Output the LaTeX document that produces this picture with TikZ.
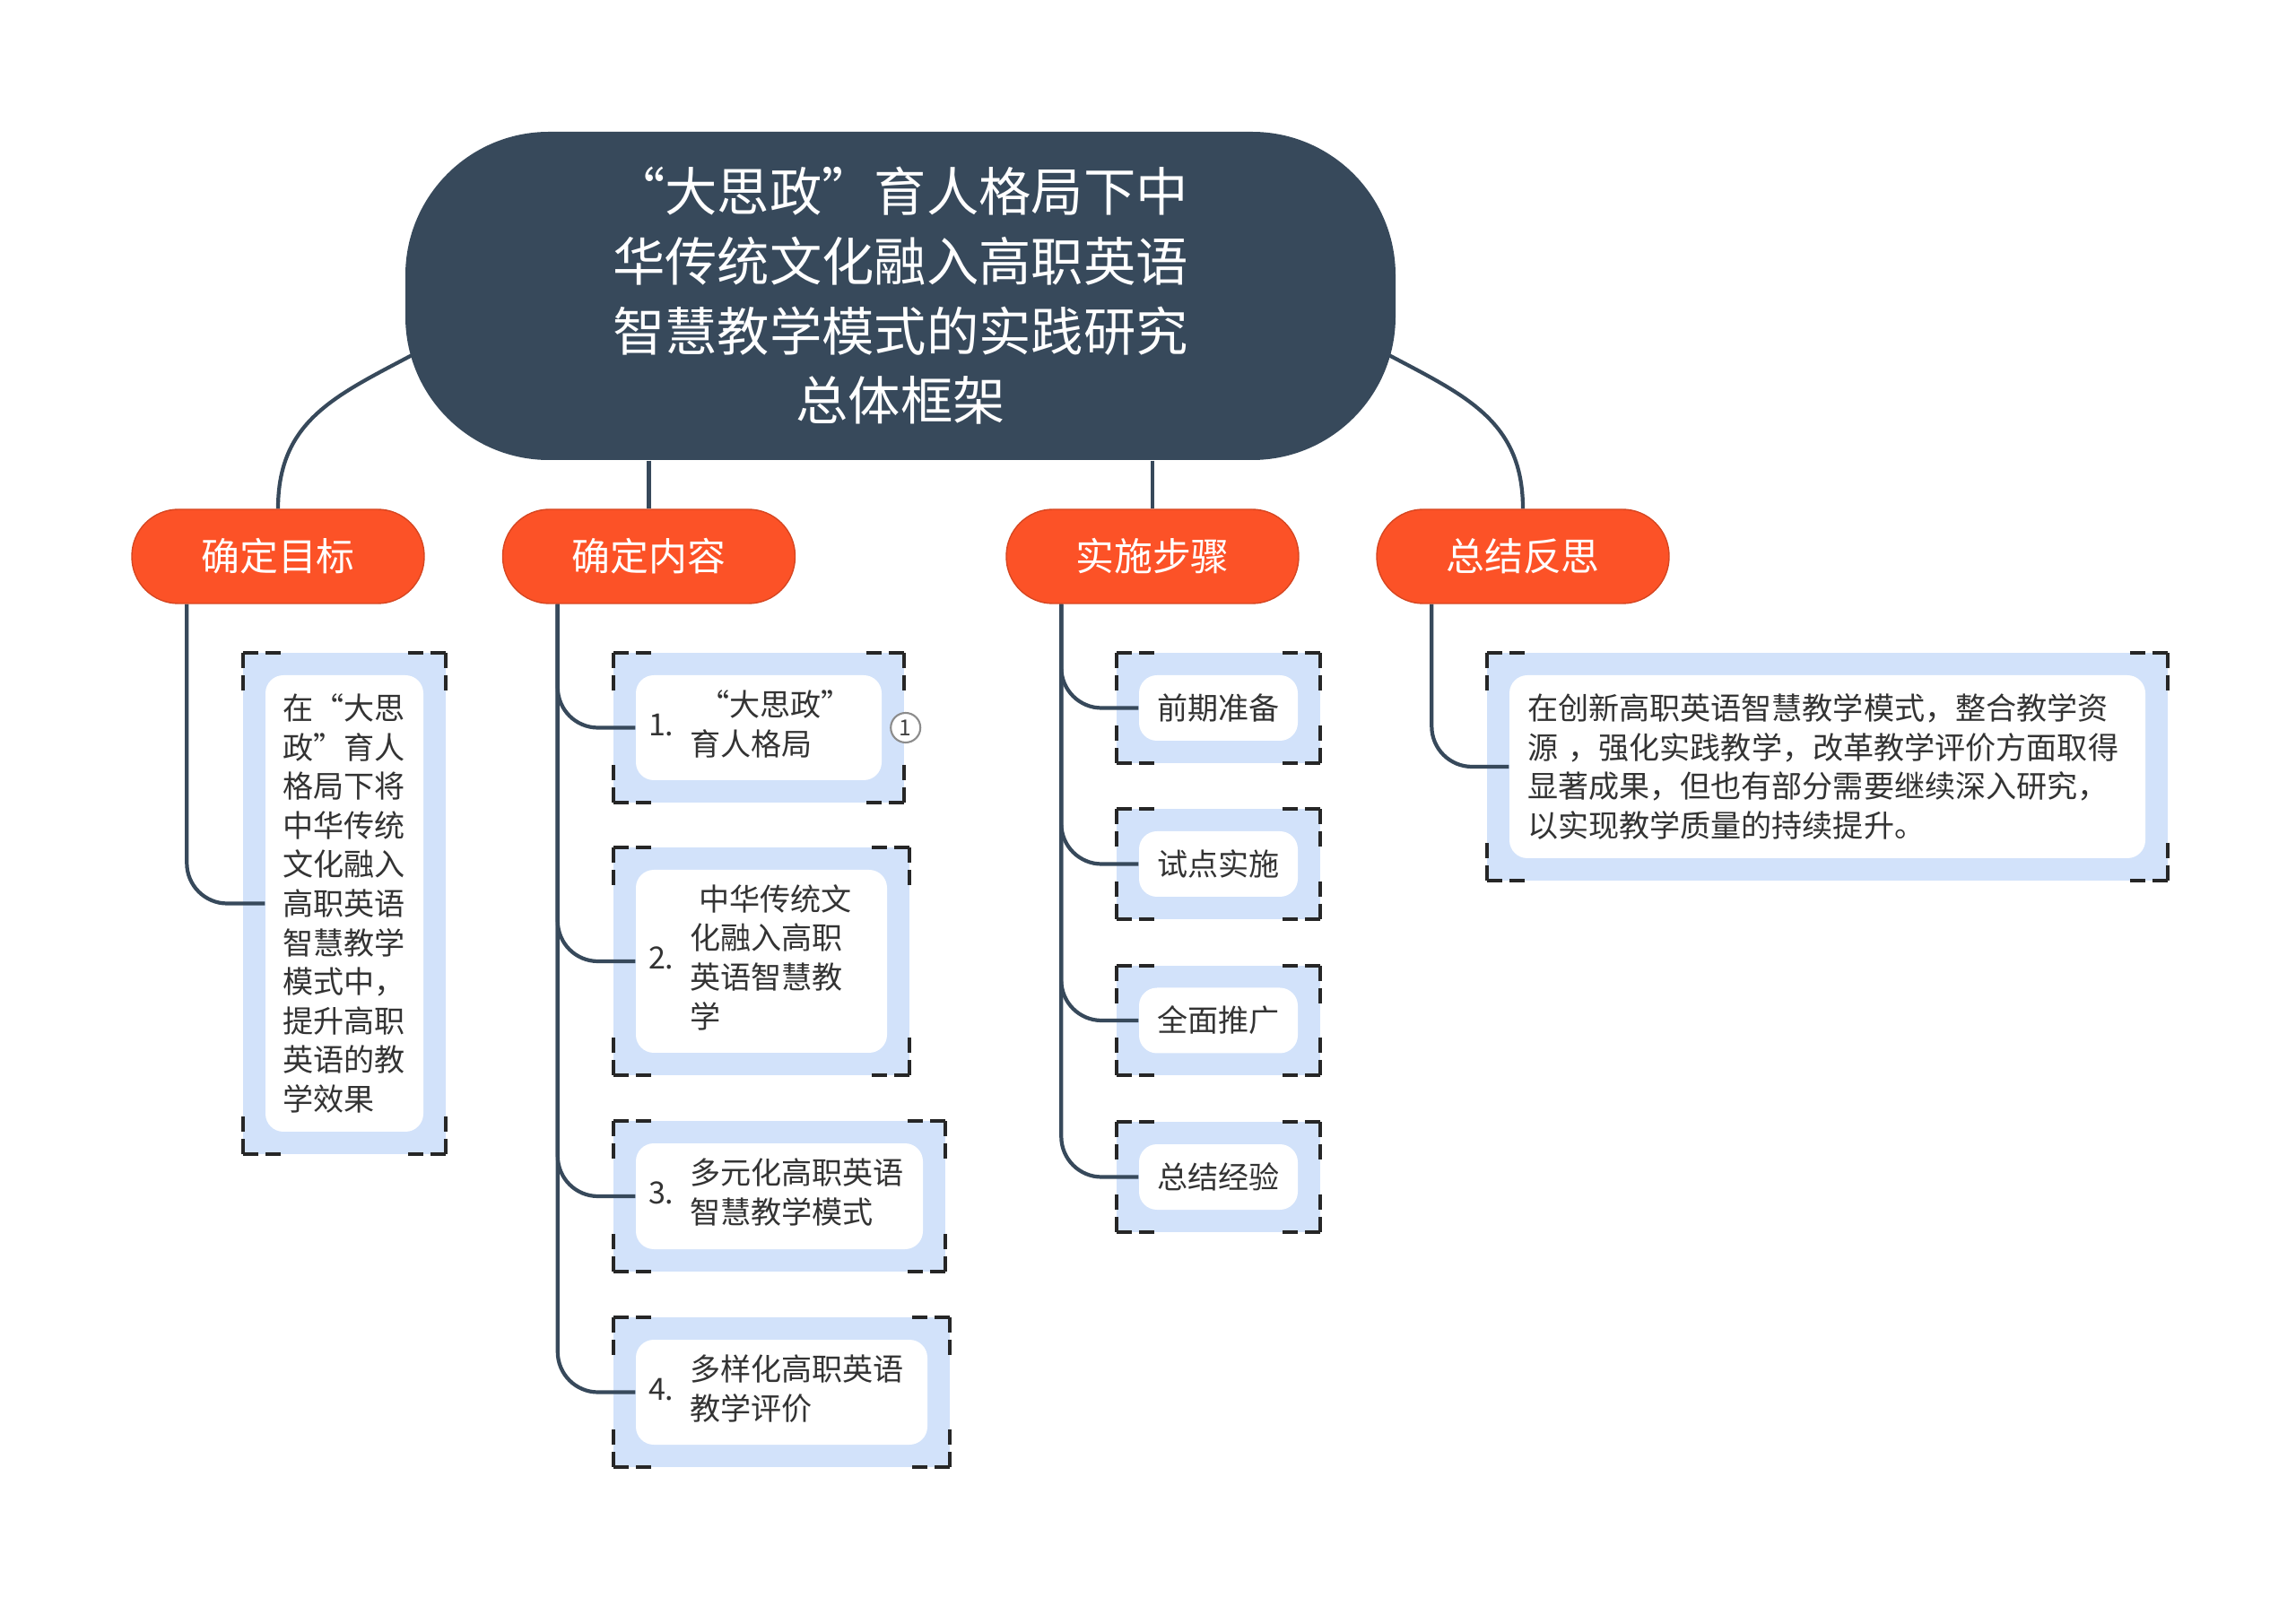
\documentclass[tikz,border=0pt]{standalone}
\usepackage{fontspec}
\setmainfont{Noto Sans CJK SC}
\usepackage{tikz}
\usetikzlibrary{scopes}
\definecolor{rootcol}{HTML}{37495B}
\definecolor{topiccol}{HTML}{FC5227}
\definecolor{bandcol}{HTML}{D2E2FA}
\definecolor{inkcol}{HTML}{333333}
\pgfdeclarelayer{background layer}
\pgfsetlayers{background layer,main}

% blue band with dashed corner marks round a leaf
\newcommand\leafframe[1]{%
    \fill[bandcol] ([shift={(-0.24,-0.24)}]#1.south west) rectangle ([shift={(0.24,0.24)}]#1.north east);
    \foreach \a/\sx/\sy/\mx/\my in {south west/-0.24/-0.24/0.42/0.42, south east/0.24/-0.24/-0.42/0.42,
        north west/-0.24/0.24/0.42/-0.42, north east/0.24/0.24/-0.42/-0.42}{
        \draw[cornermark] ([shift={(\sx,\sy)}]#1.\a) -- ++(\mx,0);
        \draw[cornermark] ([shift={(\sx,\sy)}]#1.\a) -- ++(0,\my);
    }%
}
\newcommand\numitem[2]{#1.\hspace{0.18cm}\begin{tabular}{@{}l@{}}#2\end{tabular}}

\begin{document}
\begin{tikzpicture}[
    link/.style={draw=rootcol,line width=1.2pt},
    topic/.style={rectangle,fill=topiccol,draw=topiccol!85!black,line width=0.4pt,text=white,
        minimum width=3.26cm,minimum height=1.05cm,rounded corners=0.52cm,font=\fontsize{12.2}{14}\selectfont},
    leaf/.style={rectangle,fill=white,rounded corners=0.2cm,text=inkcol,inner sep=0pt,
        font=\fontsize{9.7}{12.4}\selectfont},
    cornermark/.style={draw=black!85,line width=1.1pt,dash pattern=on 0.17cm off 0.08cm},
]
    \useasboundingbox (0,0) rectangle (25.6,-17.82);

    \node[rectangle,fill=rootcol,text=white,minimum width=11.04cm,minimum height=3.66cm,rounded corners=1.6cm,
        align=center,font=\fontsize{16.6}{22.1}\selectfont] (root) at (10.04,-3.30)
        {“大思政”育人格局下中\\华传统文化融入高职英语\\智慧教学模式的实践研究\\总体框架};

    \node[topic] (goal) at (3.10,-6.205) {确定目标};
    \node[topic] (content) at (7.235,-6.205) {确定内容};
    \node[topic] (steps) at (12.85,-6.205) {实施步骤};
    \node[topic] (reflect) at (16.98,-6.205) {总结反思};

    \node[leaf,minimum width=1.76cm,minimum height=5.09cm,text width=1.38cm,inner xsep=0.19cm,align=left] (goaltxt) at (3.84,-10.075)
        {在“大思\\政”育人\\格局下将\\中华传统\\文化融入\\高职英语\\智慧教学\\模式中，\\提升高职\\英语的教\\学效果};

    \node[leaf,minimum width=2.74cm,minimum height=1.17cm,text width=2.46cm,inner xsep=0.14cm,align=left] (c1) at (8.46,-8.115)
        {\numitem{1}{\hspace*{0.3em}“大思政”\\育人格局}};
    \node[leaf,minimum width=2.80cm,minimum height=2.04cm,text width=2.52cm,inner xsep=0.14cm,align=left] (c2) at (8.49,-10.72)
        {\numitem{2}{\hspace*{0.3em}中华传统文\\化融入高职\\英语智慧教\\学}};
    \node[leaf,minimum width=3.20cm,minimum height=1.18cm,text width=2.92cm,inner xsep=0.14cm,align=left] (c3) at (8.69,-13.34)
        {\numitem{3}{多元化高职英语\\智慧教学模式}};
    \node[leaf,minimum width=3.25cm,minimum height=1.17cm,text width=2.97cm,inner xsep=0.14cm,align=left] (c4) at (8.715,-15.525)
        {\numitem{4}{多样化高职英语\\教学评价}};
    \node[circle,draw=black!45,fill=white,line width=0.6pt,minimum size=0.33cm,inner sep=0pt,text=black!75,
        font=\fontsize{7}{8}\selectfont] (c1mark) at ([xshift=0.26cm]c1.east) {1};

    \node[leaf,minimum width=1.77cm,minimum height=0.73cm] (s1) at (13.585,-7.895) {前期准备};
    \node[leaf,minimum width=1.77cm,minimum height=0.73cm] (s2) at (13.585,-9.635) {试点实施};
    \node[leaf,minimum width=1.77cm,minimum height=0.73cm] (s3) at (13.585,-11.38) {全面推广};
    \node[leaf,minimum width=1.77cm,minimum height=0.73cm] (s4) at (13.585,-13.125) {总结经验};

    \node[leaf,minimum width=7.09cm,minimum height=2.04cm,text width=6.69cm,inner xsep=0.2cm,align=left] (sumtxt) at (20.375,-8.55)
        {在创新高职英语智慧教学模式，整合教学资\\源 ，强化实践教学，改革教学评价方面取得\\显著成果，但也有部分需要继续深入研究，\\以实现教学质量的持续提升。};

\begin{pgfonlayer}{background layer}
    \foreach \n in {goaltxt,c1,c2,c3,c4,s1,s2,s3,s4,sumtxt} {\leafframe{\n}}
    \draw[link] (root.south -| content.north) -- (content.north);
    \draw[link] (root.south -| steps.north) -- (steps.north);
    {[link]
        \draw ([shift={(0.1,-0.65)}]root.west) to[out=208,in=90,looseness=1.1] (goal.north);
        \draw ([shift={(-0.1,-0.65)}]root.east) to[out=-28,in=90,looseness=1.1] (reflect.north);
    }
    {[link,rounded corners=0.45cm]
        \draw ([xshift=0.62cm]goal.south west) |- (goaltxt.west);
        \foreach \n in {c1,c2,c3,c4} \draw ([xshift=0.62cm]content.south west) |- (\n.west);
        \foreach \n in {s1,s2,s3,s4} \draw ([xshift=0.62cm]steps.south west) |- (\n.west);
        \draw ([xshift=0.62cm]reflect.south west) |- (sumtxt.west);
    }
\end{pgfonlayer}
\end{tikzpicture}
\end{document}
